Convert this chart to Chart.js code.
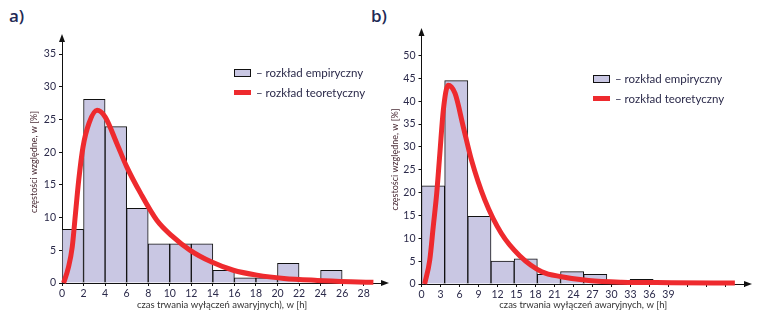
<!DOCTYPE html>
<html>
<head>
<meta charset="utf-8">
<script src="https://cdn.jsdelivr.net/npm/chart.js@4.4.1/dist/chart.umd.min.js"></script>
<style>
body { margin:0; width:772px; height:318px; background:#fff; position:relative; overflow:hidden; font-family:Lato, sans-serif; color:#2b2a4a; }
.panel { position:absolute; top:0; height:318px; }
.tag { position:absolute; top:4px; font:600 17px "Open Sans", sans-serif; color:#1f2a55; }
.leg { position:absolute; font-size:11.5px; line-height:14px; white-space:nowrap; }
.leg div { position:relative; height:20px; padding-left:22px; }
.leg .box { position:absolute; left:0; top:3px; width:15px; height:6px; background:#c9c7e3; border:1px solid #111; }
.leg .red { position:absolute; left:0; top:4px; width:17px; height:5px; background:#ee2a2e; }
</style>
</head>
<body>
<div class="tag" style="left:9px">a)</div>
<div class="tag" style="left:371px">b)</div>
<div class="panel" style="left:0;width:390px"><canvas id="chartA"></canvas></div>
<div class="panel" style="left:380px;width:392px"><canvas id="chartB"></canvas></div>
<div class="leg" style="left:234px;top:66px">
  <div><span class="box"></span>– rozkład empiryczny</div>
  <div><span class="red"></span>– rozkład teoretyczny</div>
</div>
<div class="leg" style="left:593px;top:72px">
  <div><span class="box"></span>– rozkład empiryczny</div>
  <div><span class="red"></span>– rozkład teoretyczny</div>
</div>
<script>
// --- DATA: panel a) ---
const binsA = [1, 3, 5, 7, 9, 11, 13, 15, 17, 19, 21, 23, 25, 27];
const empA = [8.2, 28.1, 23.9, 11.4, 6.0, 6.0, 6.0, 1.95, 0.8, 0.8, 3.0, 0, 1.95, 0];
const curveXA = [0.15, 0.6, 0.95, 1.25, 1.55, 1.95, 2.5, 3.25, 4.0, 5.1, 6.0, 7.3, 8.8, 10.2, 11.9, 13.9, 15.9, 18.1, 20.6, 23.7, 26.8, 28.9];
const curveYA = [0, 2.4, 5.5, 10.6, 15.7, 20.8, 24.4, 26.4, 25.4, 21.3, 17.8, 13.7, 9.6, 7.2, 5.0, 3.2, 1.95, 1.2, 0.7, 0.4, 0.2, 0.1];

// --- DATA: panel b) ---
const binsB = [1.83, 5.49, 9.15, 12.81, 16.47, 20.13, 23.79, 27.45, 31.11, 34.77];
const empB = [21.5, 44.5, 14.8, 5.0, 5.5, 2.1, 2.7, 2.1, 0, 1.0];
const curveXB = [0.5, 1.3, 1.85, 2.4, 2.9, 3.45, 4.2, 5.3, 6.6, 7.9, 10.0, 12.6, 15.5, 19.0, 22.1, 26.4, 31.6, 39.5, 49.5];
const curveYB = [0, 5.2, 12.5, 19.8, 28.6, 38.1, 43.5, 41.7, 34.4, 27.1, 18.4, 11.1, 6.2, 2.7, 1.6, 0.75, 0.4, 0.3, 0.2];

const yTitle = 'częstości względne, w [%]';
const xTitleA = 'czas trwania wyłączeń awaryjnych), w [h]';
const xTitleB = 'czas trwania wyłączeń awaryjnych, w [h]';

const INK = '#2b2a4a';

// ticks at every whole step from 0 up to the axis max
function stepTicks(s, step) {
  const t = [];
  for (let v = 0; v <= s.max + 1e-9; v += step) t.push({ value: v });
  s.ticks = t;
}

// arrow heads at the end of both axes
const axisArrows = {
  id: 'axisArrows',
  afterDraw(chart) {
    const { ctx, chartArea: a } = chart;
    ctx.save();
    ctx.fillStyle = '#111';
    ctx.beginPath();
    ctx.moveTo(a.left, a.top - 7);
    ctx.lineTo(a.left - 3, a.top + 1);
    ctx.lineTo(a.left + 3, a.top + 1);
    ctx.fill();
    ctx.beginPath();
    ctx.moveTo(a.right + 7, a.bottom);
    ctx.lineTo(a.right - 1, a.bottom - 3);
    ctx.lineTo(a.right - 1, a.bottom + 3);
    ctx.fill();
    ctx.restore();
  }
};

function makeChart(id, cfg) {
  const pts = cfg.curveX.map((x, i) => ({ x: x, y: cfg.curveY[i] }));
  const bars = cfg.bins.map((x, i) => ({ x: x, y: cfg.emp[i] }));
  return new Chart(document.getElementById(id), {
    type: 'bar',
    data: {
      datasets: [{
        type: 'line',
        data: pts,
        borderColor: '#ee2a2e',
        borderWidth: 5,
        pointRadius: 0,
        cubicInterpolationMode: 'monotone',
        clip: 10
      }, {
        data: bars,
        backgroundColor: '#c9c7e3',
        borderColor: '#111',
        borderWidth: 1,
        barThickness: 'flex',
        barPercentage: 1,
        categoryPercentage: 1
      }]
    },
    options: {
      responsive: true,
      maintainAspectRatio: false,
      animation: false,
      layout: { padding: { left: 0, right: cfg.padRight, top: cfg.padTop, bottom: 0 } },
      plugins: { legend: { display: false }, tooltip: { enabled: false } },
      scales: {
        x: {
          type: 'linear',
          offset: false,
          min: 0,
          max: cfg.xMax,
          afterFit: s => { s.height = cfg.xHeight; s.paddingLeft = 0; s.paddingRight = 0; },
          afterBuildTicks: s => stepTicks(s, cfg.xStep),
          ticks: {
            autoSkip: false,
            maxRotation: 0,
            padding: 1,
            color: INK,
            font: { family: 'Lato', size: 10.5 },
            callback: v => (v <= cfg.xLastLabel ? Math.round(v) : '')
          },
          grid: { offset: false, drawOnChartArea: false, tickLength: 3, color: '#111' },
          border: { color: '#111', width: 1 },
          title: {
            display: true,
            text: cfg.xTitle,
            color: '#333',
            font: { family: 'Lato', size: 9.5 },
            padding: { top: 0, bottom: 7 }
          }
        },
        y: {
          min: 0,
          max: cfg.yMax,
          afterFit: s => { s.width = cfg.yWidth; s.paddingTop = 0; s.paddingBottom = 0; },
          afterBuildTicks: s => stepTicks(s, 5),
          ticks: {
            padding: 3,
            color: INK,
            font: { family: 'Lato', size: 10.5 }
          },
          grid: { drawOnChartArea: false, tickLength: 3, color: '#111' },
          border: { color: '#111', width: 1 },
          title: {
            display: true,
            text: yTitle,
            color: '#4a2c36',
            font: { family: 'Lato', size: 9 },
            padding: { top: cfg.yTitlePad, bottom: 0 }
          }
        }
      }
    },
    plugins: [axisArrows]
  });
}

makeChart('chartA', {
  bins: binsA, emp: empA, curveX: curveXA, curveY: curveYA,
  xMax: 29.7, xStep: 2, xLastLabel: 28, yMax: 37,
  xTitle: xTitleA, padRight: 8, padTop: 41, xHeight: 35, yWidth: 62, yTitlePad: 29
});

makeChart('chartB', {
  bins: binsB, emp: empB, curveX: curveXB, curveY: curveYB,
  xMax: 51.1, xStep: 3, xLastLabel: 39, yMax: 54.5,
  xTitle: xTitleB, padRight: 27, padTop: 35, xHeight: 34, yWidth: 41.5, yTitlePad: 10
});
</script>
</body>
</html>
